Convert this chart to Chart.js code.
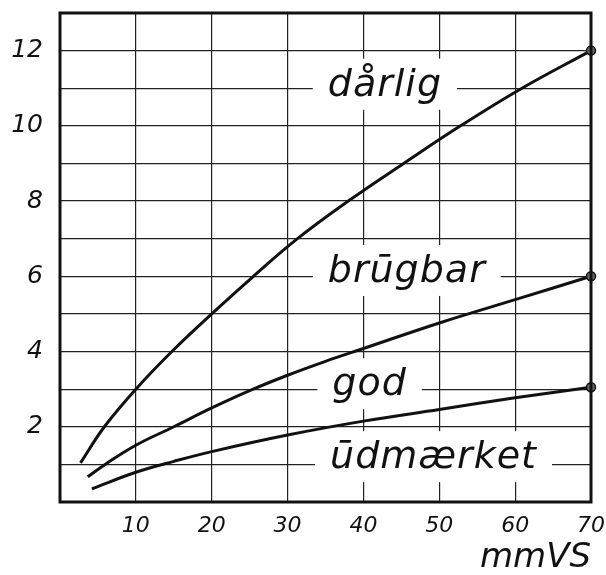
<!DOCTYPE html>
<html>
<head>
<meta charset="utf-8">
<script src="https://cdn.jsdelivr.net/npm/chart.js@4/dist/chart.umd.min.js"></script>
<style>
  html, body { margin: 0; padding: 0; background: #fff; }
  canvas { display: block; }
</style>
</head>
<body>
<canvas id="c" width="606" height="575"></canvas>
<script>
// ---- data ----
const darligX = [2.7, 5.85, 10, 14.75, 20, 25.5, 31.3, 38, 45.3, 52.8, 60.9, 70];
const darligY = [1.04, 2, 3, 4, 5, 6, 7, 8, 9, 10, 11, 12];

const brugbarX = [3.65, 5.95, 10, 15, 20, 25, 30, 35, 40, 50, 60, 70];
const brugbarY = [0.67, 1, 1.51, 2, 2.5, 2.96, 3.37, 3.74, 4.08, 4.76, 5.38, 6.0];

const godX = [4.2, 10, 15, 20, 30, 40, 50, 60, 70];
const godY = [0.35, 0.79, 1.08, 1.34, 1.78, 2.15, 2.46, 2.77, 3.05];

const xTickValues = [10, 20, 30, 40, 50, 60, 70];
const yTickValues = [2, 4, 6, 8, 10, 12];
const xTitle = 'mmVS';

const zoneLabels = ['dårlig', 'brūgbar', 'god', 'ūdmærket'];
// ---- label anchors (data units, left / baseline) ----
const zoneAnchorX = [35.3, 35.3, 35.9, 35.6];
const zoneAnchorY = [10.8, 5.85, 2.84, 0.9];

function pts(xs, ys) { return xs.map((x, i) => ({ x: x, y: ys[i] })); }

const INK = '#111';
function curve(xs, ys) {
  return {
    data: pts(xs, ys),
    showLine: true,
    borderColor: INK,
    borderWidth: 3,
    tension: 0.4,
    pointRadius: ctx => ctx.dataIndex === xs.length - 1 ? 4.5 : 0,
    pointBackgroundColor: '#666',
    pointBorderColor: INK,
    pointBorderWidth: 1.5,
    pointHoverRadius: 0,
    clip: false
  };
}

const zonePlugin = {
  id: 'zones',
  beforeDatasetsDraw(chart) {
    const ctx = chart.ctx;
    const xs = chart.scales.x, ys = chart.scales.y;
    ctx.save();
    ctx.font = 'italic 38px "DejaVu Sans"';
    ctx.letterSpacing = '1px';
    ctx.textBaseline = 'alphabetic';
    ctx.textAlign = 'left';
    zoneLabels.forEach((t, i) => {
      const px = xs.getPixelForValue(zoneAnchorX[i]);
      const py = ys.getPixelForValue(zoneAnchorY[i]);
      const w = ctx.measureText(t).width;
      ctx.fillStyle = '#fff';
      ctx.fillRect(px - 15, py - 37, w + 30, 51);
      ctx.fillStyle = INK;
      ctx.fillText(t, px, py);
    });
    ctx.restore();
  },
  afterDraw(chart) {
    const a = chart.chartArea, ctx = chart.ctx;
    ctx.save();
    ctx.strokeStyle = INK;
    ctx.lineWidth = 3;
    ctx.strokeRect(a.left, a.top, a.right - a.left, a.bottom - a.top);
    ctx.restore();
  }
};

new Chart(document.getElementById('c'), {
  type: 'scatter',
  data: {
    datasets: [curve(darligX, darligY), curve(brugbarX, brugbarY), curve(godX, godY)]
  },
  options: {
    responsive: false,
    animation: false,
    events: [],
    layout: { padding: { top: 13, right: 15, left: 0, bottom: 0 } },
    plugins: { legend: { display: false }, tooltip: { enabled: false }, title: { display: false } },
    scales: {
      x: {
        type: 'linear', min: 0, max: 70,
        afterFit: s => { s.height = 73; s.paddingLeft = 0; s.paddingRight = 0; },
        afterBuildTicks: s => { s.ticks = [0].concat(xTickValues).map(v => ({ value: v })); },
        grid: { color: '#222', lineWidth: 1.2, drawTicks: false },
        border: { display: false },
        ticks: {
          padding: 11,
          color: INK,
          font: { family: 'DejaVu Sans', style: 'italic', size: 22 },
          maxRotation: 0,
          callback: v => xTickValues.includes(v) ? String(v) : ''
        },
        title: {
          display: true, text: xTitle, align: 'end', color: INK,
          font: { family: 'DejaVu Sans', style: 'italic', size: 34, lineHeight: 1 },
          padding: { top: 0, bottom: 0 }
        }
      },
      y: {
        type: 'linear', min: 0, max: 13,
        afterFit: s => { s.width = 60; s.paddingTop = 0; s.paddingBottom = 0; },
        ticks: {
          stepSize: 1,
          padding: 17,
          color: INK,
          font: { family: 'DejaVu Sans', style: 'italic', size: 25 },
          callback: v => yTickValues.includes(v) ? String(v) : ''
        },
        grid: { color: '#222', lineWidth: 1.2, drawTicks: false },
        border: { display: false }
      }
    }
  },
  plugins: [zonePlugin]
});
</script>
</body>
</html>
